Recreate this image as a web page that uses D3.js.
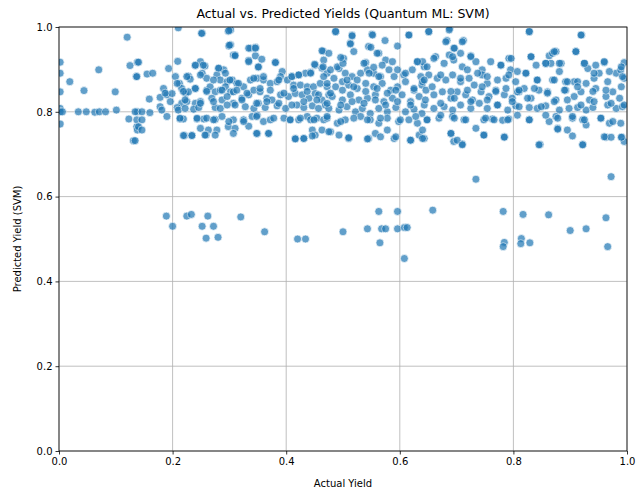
<!DOCTYPE html>
<html>
<head>
<meta charset="utf-8">
<script src="https://cdn.jsdelivr.net/npm/d3@7"></script>
<style>
  body { margin: 0; background: #fff; }
  svg { font-family: "DejaVu Sans", sans-serif; }
</style>
</head>
<body>
<svg width="637" height="493"></svg>
<script>
// main band of predictions, [actual, predicted]
const bandPoints = [
  [0.120,0.976],[0.002,0.917],[0.002,0.891],[0.019,0.871],[0.070,0.899],[0.002,0.847],[0.044,0.850],[0.099,0.847],
  [0.125,0.909],[0.138,0.917],[0.136,0.883],[0.002,0.808],[0.002,0.800],[0.006,0.800],[0.034,0.800],[0.048,0.800],
  [0.063,0.799],[0.071,0.800],[0.082,0.800],[0.101,0.804],[0.123,0.783],[0.138,0.800],[0.002,0.771],[0.137,0.765],
  [0.138,0.757],[0.131,0.732],
  [0.210,0.998],[0.252,0.985],[0.298,0.990],[0.299,0.955],[0.307,0.934],[0.140,0.917],[0.209,0.919],[0.193,0.902],
  [0.155,0.889],[0.165,0.891],[0.137,0.883],[0.205,0.883],[0.240,0.909],[0.249,0.918],[0.257,0.908],[0.228,0.884],
  [0.231,0.877],[0.252,0.891],[0.260,0.879],[0.281,0.902],[0.278,0.887],[0.290,0.899],[0.284,0.875],[0.296,0.871],
  [0.305,0.875],[0.212,0.867],[0.216,0.855],[0.223,0.843],[0.228,0.847],[0.240,0.855],[0.184,0.855],[0.178,0.834],
  [0.190,0.840],[0.199,0.843],[0.159,0.830],[0.260,0.851],[0.266,0.859],[0.275,0.847],[0.284,0.851],[0.293,0.859],
  [0.302,0.847],[0.269,0.832],[0.287,0.828],[0.296,0.836],[0.307,0.820],[0.216,0.820],[0.225,0.824],[0.240,0.820],
  [0.249,0.824],[0.178,0.812],[0.181,0.804],[0.208,0.810],[0.210,0.804],[0.222,0.808],[0.237,0.806],[0.246,0.810],
  [0.275,0.810],[0.284,0.808],[0.134,0.800],[0.146,0.800],[0.160,0.798],[0.137,0.781],[0.146,0.781],[0.190,0.789],
  [0.213,0.783],[0.219,0.783],[0.243,0.783],[0.255,0.783],[0.260,0.785],[0.275,0.782],[0.287,0.789],[0.140,0.765],
  [0.146,0.757],[0.249,0.761],[0.263,0.757],[0.278,0.757],[0.298,0.765],[0.221,0.744],[0.234,0.744],[0.259,0.745],
  [0.275,0.745],[0.134,0.732],
  [0.302,0.993],[0.302,0.958],[0.310,0.934],[0.337,0.950],[0.346,0.952],[0.346,0.932],[0.334,0.921],[0.357,0.924],
  [0.351,0.905],[0.381,0.917],[0.393,0.895],[0.465,0.943],[0.466,0.922],[0.451,0.910],[0.463,0.903],[0.472,0.891],
  [0.443,0.893],[0.434,0.891],[0.422,0.887],[0.410,0.883],
  [0.313,0.867],[0.325,0.859],[0.337,0.875],[0.349,0.879],[0.360,0.875],[0.372,0.867],[0.384,0.871],[0.390,0.883],
  [0.402,0.875],[0.413,0.863],[0.425,0.863],[0.437,0.859],[0.448,0.859],[0.460,0.867],[0.472,0.859],
  [0.307,0.847],[0.322,0.832],[0.334,0.840],[0.343,0.851],[0.354,0.847],[0.366,0.832],[0.375,0.828],[0.390,0.840],
  [0.404,0.836],[0.416,0.843],[0.428,0.840],[0.440,0.832],[0.451,0.843],[0.463,0.828],[0.475,0.840],
  [0.310,0.816],[0.328,0.812],[0.343,0.808],[0.351,0.820],[0.363,0.810],[0.384,0.814],[0.399,0.808],[0.419,0.816],
  [0.431,0.810],[0.446,0.814],[0.457,0.808],[0.469,0.816],
  [0.307,0.781],[0.325,0.781],[0.340,0.789],[0.349,0.792],[0.360,0.777],[0.372,0.781],[0.396,0.785],[0.407,0.781],
  [0.422,0.781],[0.437,0.789],[0.443,0.781],[0.454,0.785],[0.466,0.781],
  [0.310,0.761],[0.334,0.766],[0.349,0.749],[0.369,0.749],[0.416,0.737],[0.431,0.737],[0.446,0.757],[0.451,0.745],
  [0.463,0.757],
  [0.487,0.989],[0.516,0.981],[0.513,0.962],[0.519,0.942],[0.551,0.983],[0.545,0.954],[0.563,0.938],[0.574,0.968],
  [0.596,0.955],[0.616,0.981],[0.501,0.926],[0.475,0.938],[0.540,0.916],[0.575,0.922],[0.587,0.918],[0.631,0.918],
  [0.643,0.906],
  [0.478,0.899],[0.493,0.902],[0.504,0.891],[0.516,0.883],[0.531,0.891],[0.543,0.899],[0.554,0.891],[0.566,0.883],
  [0.581,0.899],[0.596,0.899],[0.607,0.887],[0.622,0.899],[0.637,0.883],
  [0.472,0.867],[0.487,0.859],[0.499,0.871],[0.510,0.863],[0.525,0.855],[0.540,0.867],[0.554,0.859],[0.569,0.867],
  [0.584,0.851],[0.596,0.859],[0.610,0.871],[0.625,0.851],[0.639,0.863],
  [0.481,0.836],[0.499,0.828],[0.513,0.840],[0.528,0.828],[0.543,0.832],[0.557,0.840],[0.572,0.824],[0.587,0.832],
  [0.604,0.840],[0.619,0.824],[0.634,0.836],
  [0.475,0.808],[0.493,0.804],[0.507,0.812],[0.522,0.800],[0.534,0.808],[0.548,0.796],[0.563,0.808],[0.578,0.800],
  [0.593,0.810],[0.610,0.800],[0.625,0.806],[0.639,0.796],
  [0.472,0.785],[0.490,0.773],[0.504,0.781],[0.531,0.789],[0.548,0.781],[0.563,0.773],[0.578,0.785],[0.598,0.777],
  [0.616,0.781],[0.631,0.773],
  [0.478,0.753],[0.493,0.745],[0.510,0.737],[0.545,0.737],[0.557,0.749],[0.578,0.757],[0.590,0.737],[0.619,0.733],
  [0.634,0.745],
  [0.651,0.989],[0.688,0.997],[0.683,0.968],[0.712,0.968],[0.695,0.950],[0.663,0.930],[0.687,0.934],[0.707,0.938],
  [0.725,0.932],[0.734,0.918],
  [0.640,0.918],[0.648,0.906],[0.678,0.914],[0.695,0.922],[0.710,0.906],[0.719,0.899],[0.745,0.899],[0.778,0.910],
  [0.792,0.926],[0.795,0.899],
  [0.640,0.871],[0.651,0.887],[0.666,0.879],[0.681,0.875],[0.693,0.887],[0.707,0.871],[0.722,0.879],[0.731,0.863],
  [0.745,0.887],[0.754,0.867],[0.772,0.875],[0.787,0.879],[0.804,0.871],
  [0.646,0.851],[0.660,0.840],[0.675,0.847],[0.690,0.832],[0.701,0.847],[0.716,0.840],[0.728,0.828],[0.743,0.847],
  [0.757,0.836],[0.769,0.851],[0.784,0.840],[0.798,0.832],[0.810,0.847],
  [0.643,0.816],[0.660,0.808],[0.678,0.812],[0.693,0.804],[0.707,0.816],[0.725,0.808],[0.740,0.820],[0.754,0.808],
  [0.772,0.816],[0.790,0.804],[0.804,0.814],
  [0.648,0.781],[0.669,0.785],[0.693,0.789],[0.713,0.781],[0.748,0.781],[0.763,0.783],[0.781,0.780],[0.792,0.783],
  [0.640,0.757],[0.643,0.737],[0.690,0.749],[0.734,0.761],[0.748,0.745],[0.695,0.730],[0.710,0.724],[0.784,0.741],
  [0.828,0.989],[0.920,0.981],
  [0.831,0.930],[0.840,0.910],[0.863,0.932],[0.869,0.938],[0.875,0.942],[0.857,0.914],[0.866,0.914],[0.884,0.914],
  [0.910,0.942],[0.925,0.914],[0.931,0.902],[0.945,0.910],[0.960,0.916],[0.995,0.916],
  [0.807,0.895],[0.822,0.891],[0.842,0.875],[0.869,0.875],[0.881,0.895],[0.892,0.871],[0.907,0.871],[0.928,0.867],
  [0.942,0.879],[0.951,0.891],[0.966,0.871],[0.981,0.891],[0.989,0.899],[0.995,0.879],
  [0.807,0.847],[0.819,0.855],[0.831,0.832],[0.845,0.851],[0.860,0.847],[0.875,0.828],[0.892,0.851],[0.907,0.836],
  [0.919,0.847],[0.934,0.828],[0.945,0.855],[0.963,0.836],[0.975,0.847],[0.987,0.832],
  [0.810,0.812],[0.828,0.810],[0.842,0.808],[0.857,0.814],[0.881,0.804],[0.898,0.808],[0.913,0.810],[0.928,0.804],
  [0.940,0.810],[0.966,0.816],[0.981,0.808],[0.992,0.812],
  [0.807,0.792],[0.828,0.781],[0.863,0.777],[0.875,0.789],[0.904,0.785],[0.922,0.781],[0.928,0.769],[0.954,0.785],
  [0.969,0.773],[0.989,0.773],
  [0.878,0.761],[0.895,0.757],[0.963,0.740],[0.972,0.740],[0.991,0.740],[0.847,0.723],[0.922,0.723],[0.995,0.730]
];

const bandPoints2 = [
  [0.240,0.910],[0.254,0.910],[0.281,0.903],[0.293,0.891],[0.334,0.918],[0.351,0.906],[0.381,0.916],[0.450,0.912],
  [0.465,0.906],[0.490,0.906],[0.500,0.914],[0.537,0.914],[0.554,0.905],[0.569,0.910],
  [0.208,0.867],[0.225,0.883],[0.249,0.887],[0.272,0.875],[0.301,0.875],[0.316,0.867],[0.343,0.879],[0.360,0.883],
  [0.387,0.875],[0.410,0.883],[0.422,0.887],[0.443,0.891],[0.466,0.883],[0.484,0.879],[0.507,0.875],[0.525,0.875],
  [0.546,0.891],[0.563,0.883],
  [0.187,0.844],[0.219,0.848],[0.240,0.855],[0.260,0.848],[0.287,0.851],[0.313,0.851],[0.331,0.844],[0.354,0.855],
  [0.372,0.851],[0.396,0.844],[0.413,0.855],[0.437,0.848],[0.457,0.840],[0.478,0.844],[0.499,0.851],[0.519,0.859],
  [0.540,0.848],[0.560,0.855],[0.578,0.844],
  [0.196,0.824],[0.222,0.828],[0.249,0.820],[0.272,0.824],[0.296,0.816],[0.322,0.828],[0.348,0.820],[0.366,0.824],
  [0.387,0.820],[0.410,0.816],[0.431,0.824],[0.454,0.828],[0.472,0.820],[0.496,0.816],[0.516,0.824],[0.537,0.820],
  [0.557,0.828],[0.575,0.816],
  [0.213,0.785],[0.243,0.785],[0.272,0.781],[0.299,0.777],[0.325,0.777],[0.348,0.789],[0.378,0.785],[0.407,0.781],
  [0.425,0.785],[0.449,0.781],[0.472,0.789],[0.496,0.777],[0.519,0.785],[0.543,0.781],[0.566,0.785],
  [0.219,0.744],[0.234,0.744],[0.257,0.745],[0.307,0.749],[0.348,0.749],[0.369,0.749],[0.416,0.736],[0.431,0.737],
  [0.446,0.743],[0.475,0.753],[0.510,0.739],[0.543,0.736],[0.566,0.741],
  [0.251,0.985],[0.299,0.991],[0.300,0.957],[0.310,0.932],[0.334,0.950],[0.346,0.950],[0.487,0.989],[0.516,0.979],
  [0.552,0.981],[0.513,0.960],[0.549,0.952],[0.560,0.938],[0.463,0.944],[0.496,0.928],
  [0.616,0.981],[0.651,0.989],[0.687,0.993],[0.681,0.965],[0.696,0.950],[0.710,0.965],[0.828,0.989],[0.919,0.981],
  [0.910,0.942],[0.872,0.942],[0.831,0.930],
  [0.631,0.918],[0.660,0.926],[0.693,0.930],[0.725,0.930],[0.760,0.918],[0.778,0.910],[0.796,0.926],[0.857,0.914],
  [0.881,0.914],[0.925,0.914],[0.960,0.918],[0.990,0.906],
  [0.590,0.883],[0.610,0.891],[0.643,0.875],[0.672,0.887],[0.707,0.879],[0.737,0.891],[0.754,0.883],[0.792,0.887],
  [0.822,0.891],[0.842,0.875],[0.872,0.875],[0.895,0.871],[0.913,0.871],[0.942,0.891],[0.969,0.895],[0.992,0.883],
  [0.593,0.851],[0.625,0.855],[0.657,0.859],[0.690,0.848],[0.719,0.851],[0.745,0.859],[0.769,0.848],[0.787,0.855],
  [0.810,0.851],[0.837,0.855],[0.860,0.844],[0.890,0.851],[0.913,0.859],[0.940,0.848],[0.963,0.851],[0.990,0.859],
  [0.596,0.824],[0.619,0.816],[0.645,0.828],[0.672,0.820],[0.696,0.832],[0.725,0.824],[0.754,0.828],[0.772,0.816],
  [0.798,0.824],[0.825,0.832],[0.849,0.812],[0.872,0.824],[0.895,0.828],[0.919,0.816],[0.942,0.824],[0.972,0.820],
  [0.995,0.816],
  [0.601,0.781],[0.628,0.789],[0.648,0.781],[0.672,0.792],[0.696,0.785],[0.716,0.781],[0.751,0.785],[0.766,0.781],
  [0.790,0.781],[0.828,0.781],[0.857,0.792],[0.878,0.785],[0.904,0.789],[0.925,0.781],[0.954,0.785],[0.975,0.777],
  [0.593,0.741],[0.619,0.733],[0.640,0.737],[0.690,0.749],[0.701,0.733],[0.710,0.722],[0.748,0.745],[0.784,0.740],
  [0.845,0.722],[0.878,0.759],[0.904,0.743],[0.922,0.722],[0.960,0.741],[0.990,0.740]
];

// the low predictions under the band
const lowPoints = [
  [0.189,0.554],[0.200,0.530],[0.225,0.554],[0.233,0.558],[0.262,0.554],[0.252,0.530],[0.272,0.530],[0.259,0.502],
  [0.280,0.504],[0.320,0.552],[0.362,0.517],[0.420,0.500],[0.434,0.500],[0.500,0.517],[0.543,0.524],[0.563,0.565],
  [0.568,0.524],[0.575,0.524],[0.565,0.491],[0.596,0.565],[0.596,0.524],[0.608,0.527],[0.613,0.527],[0.608,0.454],
  [0.658,0.568],[0.734,0.641],[0.972,0.647],[0.782,0.565],[0.784,0.492],[0.782,0.482],[0.817,0.558],[0.814,0.501],
  [0.813,0.489],[0.829,0.491],[0.862,0.557],[0.900,0.520],[0.928,0.524],[0.963,0.550],[0.966,0.482]
];

const tickValues = [0, 0.2, 0.4, 0.6, 0.8, 1.0];

const width = 637, height = 493;
const margin = {top: 27, right: 10, bottom: 42, left: 59};

const svg = d3.select('svg');

const x = d3.scaleLinear().domain([0, 1]).range([margin.left, width - margin.right]);
const y = d3.scaleLinear().domain([0, 1]).range([height - margin.bottom, margin.top]);

// grid
svg.append('g')
  .selectAll('line')
  .data(tickValues)
  .enter().append('line')
  .attr('x1', d => x(d)).attr('x2', d => x(d))
  .attr('y1', y(0)).attr('y2', y(1))
  .attr('stroke', '#b0b0b0').attr('stroke-width', 0.8);

svg.append('g')
  .selectAll('line')
  .data(tickValues)
  .enter().append('line')
  .attr('y1', d => y(d)).attr('y2', d => y(d))
  .attr('x1', x(0)).attr('x2', x(1))
  .attr('stroke', '#b0b0b0').attr('stroke-width', 0.8);

svg.append('clipPath').attr('id', 'plot-clip')
  .append('rect')
  .attr('x', x(0)).attr('y', y(1))
  .attr('width', x(1) - x(0)).attr('height', y(0) - y(1));

const allPoints = bandPoints.concat(bandPoints2, lowPoints);

svg.append('g')
  .attr('clip-path', 'url(#plot-clip)')
  .selectAll('circle')
  .data(allPoints)
  .enter().append('circle')
  .attr('cx', d => x(d[0]))
  .attr('cy', d => y(d[1]))
  .attr('r', 4)
  .attr('fill', '#1f77b4')
  .attr('stroke', '#fff')
  .attr('stroke-width', 0.7)
  .attr('opacity', 0.7);

// axes
const fmt = d3.format('.1f');
const xAxis = svg.append('g')
  .attr('transform', `translate(0,${y(0)})`)
  .call(d3.axisBottom(x).tickValues(tickValues).tickFormat(fmt).tickSize(3.5).tickPadding(3));
const yAxis = svg.append('g')
  .attr('transform', `translate(${x(0)},0)`)
  .call(d3.axisLeft(y).tickValues(tickValues).tickFormat(fmt).tickSize(3.5).tickPadding(3));

[xAxis, yAxis].forEach(g => {
  g.select('.domain').remove();
  g.selectAll('text').attr('font-size', 10).attr('fill', '#000')
    .attr('font-family', '"DejaVu Sans", sans-serif');
  g.selectAll('line').attr('stroke', '#000').attr('stroke-width', 0.8);
});

// spines
svg.append('rect')
  .attr('x', x(0)).attr('y', y(1))
  .attr('width', x(1) - x(0)).attr('height', y(0) - y(1))
  .attr('fill', 'none').attr('stroke', '#000').attr('stroke-width', 0.8);

svg.append('text')
  .attr('x', (x(0) + x(1)) / 2).attr('y', 18)
  .attr('text-anchor', 'middle').attr('font-size', 12.5)
  .text('Actual vs. Predicted Yields (Quantum ML: SVM)');

svg.append('text')
  .attr('x', (x(0) + x(1)) / 2).attr('y', 487)
  .attr('text-anchor', 'middle').attr('font-size', 10)
  .text('Actual Yield');

svg.append('text')
  .attr('transform', `translate(21,${(y(0) + y(1)) / 2}) rotate(-90)`)
  .attr('text-anchor', 'middle').attr('font-size', 10)
  .text('Predicted Yield (SVM)');
</script>
</body>
</html>
